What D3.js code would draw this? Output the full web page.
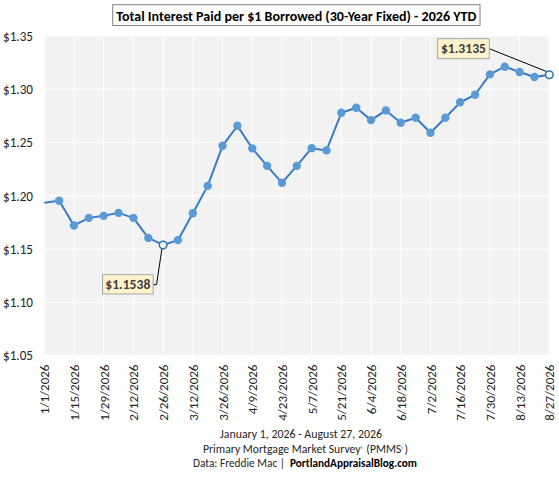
<!DOCTYPE html>
<html>
<head>
<meta charset="utf-8">
<script src="https://cdn.jsdelivr.net/npm/d3@7"></script>
<style>
  html, body { margin: 0; padding: 0; background: #fff; }
  svg { display: block; }
  text { font-family: Carlito, "Liberation Sans", Arial, sans-serif; }
</style>
</head>
<body>
<div id="chart"></div>
<script>
// ---- data ----
const dates = [
  "2026-01-01","2026-01-08","2026-01-15","2026-01-22","2026-01-29",
  "2026-02-05","2026-02-12","2026-02-19","2026-02-26","2026-03-05",
  "2026-03-12","2026-03-19","2026-03-26","2026-04-02","2026-04-09",
  "2026-04-16","2026-04-23","2026-04-30","2026-05-07","2026-05-14",
  "2026-05-21","2026-05-28","2026-06-04","2026-06-11","2026-06-18",
  "2026-06-25","2026-07-02","2026-07-09","2026-07-16","2026-07-23",
  "2026-07-30","2026-08-06","2026-08-13","2026-08-20","2026-08-27"
];
const values = [
  1.1933, 1.1952, 1.1721, 1.1792, 1.1811,
  1.1839, 1.1792, 1.1604, 1.1538, 1.1583,
  1.1836, 1.2092, 1.2468, 1.2656, 1.2444,
  1.2280, 1.2121, 1.2280, 1.2446, 1.2425,
  1.2778, 1.2825, 1.2709, 1.2800, 1.2684,
  1.2731, 1.2590, 1.2731, 1.2876, 1.2947,
  1.3138, 1.3210, 1.3160, 1.3113, 1.3135
];
const xTickLabels = [
  "1/1/2026","1/15/2026","1/29/2026","2/12/2026","2/26/2026","3/12/2026",
  "3/26/2026","4/9/2026","4/23/2026","5/7/2026","5/21/2026","6/4/2026",
  "6/18/2026","7/2/2026","7/16/2026","7/30/2026","8/13/2026","8/27/2026"
];
const yTicks = [1.05, 1.10, 1.15, 1.20, 1.25, 1.30, 1.35];
const annotatedDates = ["2026-02-26", "2026-08-27"];
const titleText = "Total Interest Paid per $1 Borrowed (30-Year Fixed) - 2026 YTD";
const footerLine1 = "January 1, 2026 - August 27, 2026";
const footerLine3a = "Data: Freddie Mac |";
const footerLine3b = "PortlandAppraisalBlog.com";

// ---- setup ----
const W = 559, H = 480;
const parse = d3.utcParse("%Y-%m-%d");
const parseTick = d3.utcParse("%m/%d/%Y");
const data = dates.map((d, i) => ({ date: parse(d), key: d, value: values[i] }));

const plot = { left: 44.3, right: 549.3, top: 35.8, bottom: 355.6 };
const x = d3.scaleUtc()
  .domain([parse(dates[0]), parse(dates[dates.length - 1])])
  .range([plot.left, plot.right]);
const y = d3.scaleLinear().domain([1.05, 1.35]).range([plot.bottom, plot.top]);

const svg = d3.select("#chart").append("svg")
  .attr("width", W).attr("height", H);

// plot background
svg.append("rect")
  .attr("x", plot.left).attr("y", plot.top)
  .attr("width", plot.right - plot.left).attr("height", plot.bottom - plot.top)
  .attr("fill", "#f2f2f2");

const tickDates = xTickLabels.map(s => parseTick(s));

// gridlines
svg.append("g").selectAll("line.h").data(yTicks).join("line")
  .attr("x1", plot.left).attr("x2", plot.right)
  .attr("y1", d => y(d)).attr("y2", d => y(d))
  .attr("stroke", "#ffffff").attr("stroke-width", 1);
svg.append("g").selectAll("line.v").data(tickDates).join("line")
  .attr("x1", d => x(d)).attr("x2", d => x(d))
  .attr("y1", plot.top).attr("y2", plot.bottom)
  .attr("stroke", "#ffffff").attr("stroke-width", 1);

// y axis labels
const yAxis = d3.axisLeft(y).tickValues(yTicks).tickSize(0).tickPadding(0)
  .tickFormat(d3.format("$.2f"));
const gy = svg.append("g").attr("transform", "translate(33,0)").call(yAxis);
gy.select(".domain").remove();
gy.selectAll("text")
  .attr("fill", "#262626")
  .style("font-size", "13.3px")
  .attr("dy", "0.33em")
  .attr("textLength", 30).attr("lengthAdjust", "spacingAndGlyphs");

// x axis labels
const fmt = d3.utcFormat("%-m/%-d/%Y");
const xAxis = d3.axisBottom(x).tickValues(tickDates).tickSize(0).tickPadding(0)
  .tickFormat(fmt);
const gx = svg.append("g").attr("transform", `translate(0,${plot.bottom})`).call(xAxis);
gx.select(".domain").remove();
gx.selectAll("text")
  .attr("fill", "#262626")
  .style("font-size", "13px")
  .attr("text-anchor", "end")
  .attr("transform", "translate(0,9) rotate(-90)")
  .attr("x", 0).attr("y", 0).attr("dy", "0.35em");

// line
const line = d3.line().x(d => x(d.date)).y(d => y(d.value));
svg.append("path").datum(data)
  .attr("d", line)
  .attr("fill", "none")
  .attr("stroke", "#3a7bc8")
  .attr("stroke-width", 2)
  .attr("stroke-linejoin", "round");

// markers
const isAnn = d => annotatedDates.includes(d.key);
svg.append("g").selectAll("circle")
  .data(data.filter((d, i) => i > 0 && !isAnn(d)))
  .join("circle")
  .attr("cx", d => x(d.date)).attr("cy", d => y(d.value))
  .attr("r", 4.2)
  .attr("fill", "#5b9bd5");

// annotations
const money4 = d3.format("$.4f");
const ann = data.filter(isAnn);
const annLayout = [
  { box: [-60.6, 29.7, 50.6, 19.3], lead: [[-10, 39.7], [-6.6, 39.7], [-1.2, 3.8]] },
  { box: [-111.7, -36, 51.7, 20], lead: [[-60, -26], [-1, -2.5]] }
];
ann.forEach((d, i) => {
  const px = x(d.date), py = y(d.value);
  const L = annLayout[i];
  const pts = L.lead.map(p => [px + p[0], py + p[1]]);
  svg.append("path")
    .attr("d", d3.line()(pts))
    .attr("fill", "none").attr("stroke", "#000").attr("stroke-width", 1);
  const g = svg.append("g");
  g.append("rect")
    .attr("x", px + L.box[0]).attr("y", py + L.box[1])
    .attr("width", L.box[2]).attr("height", L.box[3])
    .attr("fill", "#fff2cc").attr("stroke", "#a6a6a6").attr("stroke-width", 1);
  g.append("text")
    .attr("x", px + L.box[0] + L.box[2] / 2)
    .attr("y", py + L.box[1] + L.box[3] / 2)
    .attr("dy", "0.36em")
    .attr("text-anchor", "middle")
    .attr("fill", "#404040")
    .style("font-size", "13.3px").style("font-weight", "bold")
    .attr("textLength", 45).attr("lengthAdjust", "spacingAndGlyphs")
    .text(money4(d.value));
  svg.append("circle")
    .attr("cx", px).attr("cy", py).attr("r", 3.8)
    .attr("fill", "#ffffff").attr("stroke", "#2e75b6").attr("stroke-width", 1.5);
});

// title
svg.append("rect")
  .attr("x", 112.7).attr("y", 4.7).attr("width", 367.3).attr("height", 20.8)
  .attr("fill", "#ffffff").attr("stroke", "#808080").attr("stroke-width", 1);
svg.append("text")
  .attr("x", 296.3).attr("y", 15.3).attr("dy", "0.36em")
  .attr("text-anchor", "middle")
  .attr("fill", "#000")
  .style("font-size", "14.6px").style("font-weight", "bold")
  .attr("textLength", 360).attr("lengthAdjust", "spacingAndGlyphs")
  .text(titleText);

// footer
svg.append("text")
  .attr("x", 301).attr("y", 438).attr("text-anchor", "middle")
  .attr("fill", "#262626").style("font-size", "11.5px")
  .attr("textLength", 162).attr("lengthAdjust", "spacingAndGlyphs")
  .text(footerLine1);

const f2 = svg.append("text")
  .attr("x", 203).attr("y", 453)
  .attr("fill", "#262626").style("font-size", "11.5px")
  .attr("textLength", 205).attr("lengthAdjust", "spacingAndGlyphs");
f2.append("tspan").text("Primary Mortgage Market Survey");
f2.append("tspan").attr("dy", -2.5).style("font-size", "6px").text("®");
f2.append("tspan").attr("dy", 2.5).text(" (PMMS");
f2.append("tspan").attr("dy", -2.5).style("font-size", "6px").text("®");
f2.append("tspan").attr("dy", 2.5).text(")");

svg.append("text")
  .attr("x", 193).attr("y", 467)
  .attr("fill", "#262626").style("font-size", "11.5px")
  .attr("textLength", 92).attr("lengthAdjust", "spacingAndGlyphs")
  .text(footerLine3a);
svg.append("text")
  .attr("x", 290).attr("y", 467)
  .attr("fill", "#000").style("font-size", "11.5px").style("font-weight", "bold")
  .attr("textLength", 127).attr("lengthAdjust", "spacingAndGlyphs")
  .text(footerLine3b);
</script>
</body>
</html>
